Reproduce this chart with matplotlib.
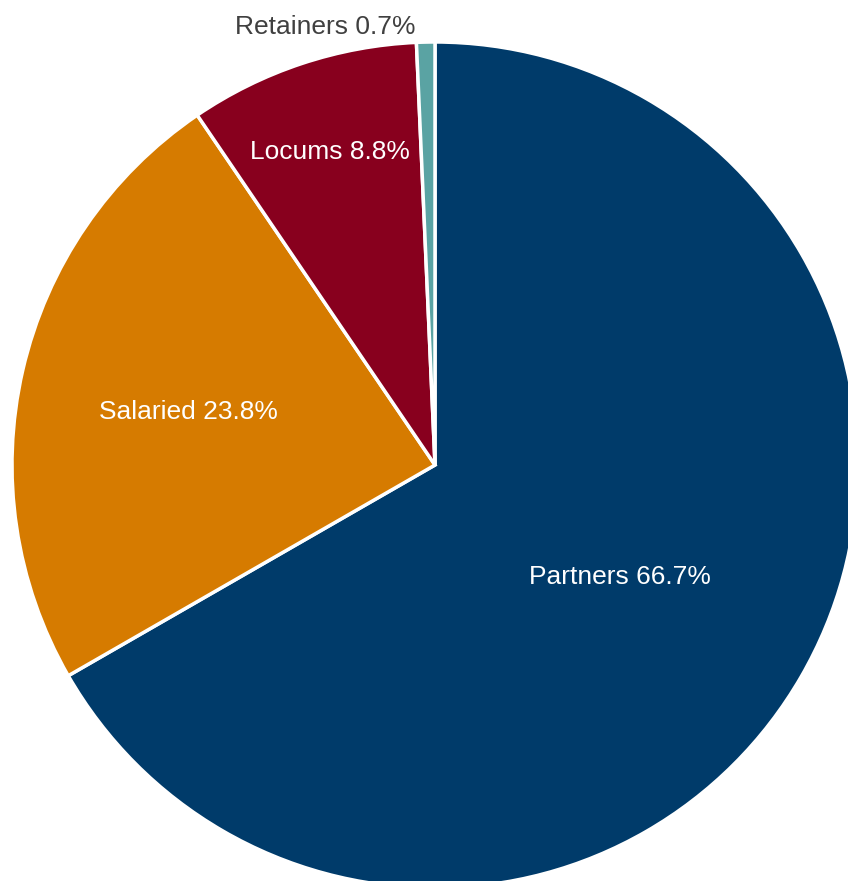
import matplotlib.pyplot as plt

plt.rcParams['font.family'] = ['Liberation Sans', 'DejaVu Sans']

labels = ['Partners', 'Salaried', 'Locums', 'Retainers']
shares = [66.7, 23.8, 8.8, 0.7]
colors = ['#003b6a', '#d67b00', '#88001e', '#5aa3a3']

W, H = 848, 881
fig = plt.figure(figsize=(W / 100, H / 100), dpi=100)
ax = fig.add_axes([0, 0, 1, 1])

cx, cy, r = 435, H - 465, 423
ax.pie(shares, colors=colors, startangle=90, counterclock=False,
       center=(cx, cy), radius=r, frame=True,
       wedgeprops=dict(edgecolor='white', linewidth=2.5))
ax.set_xlim(0, W)
ax.set_ylim(0, H)
ax.set_aspect('equal')
ax.axis('off')

# label positions (pixels from top-left)
spots = [(620, 577, 'white'), (188, 412, 'white'),
         (330, 152, 'white'), (325, 27, '#404040')]
for name, val, (x, y, c) in zip(labels, shares, spots):
    ax.text(x, H - y, f'{name} {val}%', color=c, fontsize=19,
            ha='center', va='center')

fig.savefig('out.png', dpi=100)
